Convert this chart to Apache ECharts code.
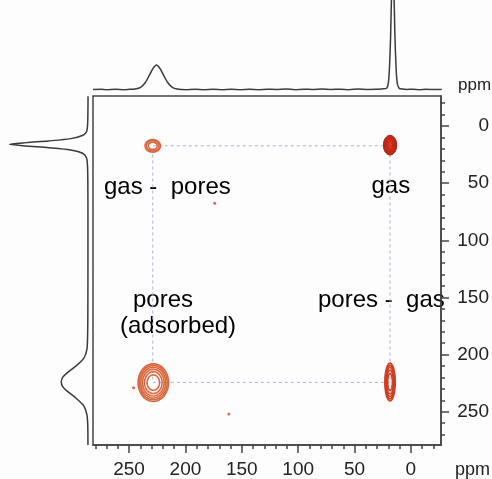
<!DOCTYPE html>
<html><head><meta charset="utf-8">
<script src="https://cdn.jsdelivr.net/npm/echarts@6/dist/echarts.min.js"></script>
<style>html,body{margin:0;padding:0;background:#fdfdfd}#c{width:492px;height:479px}</style>
</head><body><div id="c"></div>
<script>
// ---------- data ----------
const xMajorTicks = [250, 200, 150, 100, 50, 0];
const xMinorTicks = [280, 270, 260, 240, 230, 220, 210, 190, 180, 170, 160, 140, 130, 120, 110, 90, 80, 70, 60, 40, 30, 20, 10, -10, -20];
const yMajorTicks = [0, 50, 100, 150, 200, 250];
const yMinorTicks = [-20, -10, 10, 20, 30, 40, 60, 70, 80, 90, 110, 120, 130, 140, 160, 170, 180, 190, 210, 220, 230, 240, 260, 270];

// 2D peaks (ppm F2, ppm F1, half-width F2, half-width F1, contour levels)
const peakNames = ['gas - pores', 'gas', 'pores', 'pores - gas'];
const peakF2 = [229, 18.5, 228.5, 18.5];
const peakF1 = [17.3, 16.7, 224.5, 224];
const peakHalfF2 = [6.8, 5.8, 13.5, 4.6];
const peakHalfF1 = [5.5, 8.5, 16.5, 16.5];
const peakLevels = [3, 7, 6, 5];

// small noise dots
const dotF2 = [174, 161.5, 246];
const dotF1 = [67.5, 252, 229];

// exchange square (dashed)
const squareF2 = [229, 18.5, 18.5, 229, 229];
const squareF1 = [17.3, 17.3, 224.3, 224.3, 17.3];

// top projection (F2)
const topPpm = [282, 275, 270, 262, 255, 250, 245, 240, 236, 232, 229, 226, 223, 220, 216, 212, 208, 200, 192, 184, 176, 168, 160, 152, 144, 136, 128, 120, 112, 104, 96, 88, 80, 72, 64, 56, 48, 40, 32, 27, 23, 21.5, 20.5, 19.5, 18.6, 17.6, 16.6, 15.7, 14.7, 13.7, 12, 9, 5, 0, -6, -12, -18, -25.6];
const topInt = [0.5, 0.9, 0.4, 0.8, 0.3, 0.7, 1.2, 3, 8, 17, 24, 27.8, 24, 17, 8, 3, 1.1, 0.4, 0.9, 0.3, 0.8, 0.2, 0.9, 0.4, 0.8, 0.3, 0.9, 0.5, 1.0, 0.4, 0.9, 0.5, 1.0, 0.6, 0.9, 0.4, 1.0, 0.6, 0.9, 1.2, 2, 8, 25, 60, 110, 135, 110, 60, 25, 8, 2, 1.0, 0.6, 0.9, 0.4, 0.8, 0.5, 0.6];

// left projection (F1)
const leftPpm = [-26, -15, -5, 0, 5, 8, 11, 13, 14.5, 16, 17.5, 19, 21, 24, 28, 35, 50, 80, 120, 160, 180, 195, 203, 210, 216, 220, 224, 228, 232, 238, 245, 253, 262, 279];
const leftInt = [0.3, 0.4, 0.6, 0.9, 2, 6, 20, 45, 70, 89.5, 70, 45, 20, 6, 2, 0.9, 0.5, 0.4, 0.4, 0.5, 0.7, 1.5, 5, 14, 24, 29, 30.6, 29, 24, 14, 5, 1.5, 0.6, 0.4];

// ---------- styles ----------
const FONT = '"Liberation Sans", Arial, Helvetica, sans-serif';
const AX = '#444';
const peakStyle = [
  { stroke: '#d9663c', fill: null, lw: 1.6 },
  { stroke: '#b8241a', fill: '#d9381f', lw: 1.0 },
  { stroke: '#d9663c', fill: null, lw: 1.6 },
  { stroke: '#cf3f22', fill: null, lw: 1.6 }
];

const X_RANGE = [-26.7, 282];
const Y_RANGE = [-26.3, 279.1];

function ellipsePts(cx, cy, rx, ry) {
  const pts = [];
  for (let i = 0; i < 48; i++) {
    const a = Math.PI * 2 * i / 48;
    pts.push([cx + rx * Math.cos(a), cy + ry * Math.sin(a)]);
  }
  return pts;
}

const peakData = peakF2.map((x, i) => [x, peakF1[i], peakHalfF2[i], peakHalfF1[i], peakLevels[i]]);

const chart = echarts.init(document.getElementById('c'), null, { renderer: 'canvas' });

const option = {
  backgroundColor: '#fdfdfd',
  animation: false,
  grid: [
    { left: 93, top: 96, width: 350, height: 349, show: true, borderColor: AX, borderWidth: 1.5, backgroundColor: 'transparent' },
    { left: 93, top: 0, width: 350, height: 90 },
    { left: 0, top: 96, width: 88.3, height: 349 }
  ],
  xAxis: [
    { gridIndex: 0, type: 'value', inverse: true, min: X_RANGE[0], max: X_RANGE[1], position: 'bottom',
      splitLine: { show: false },
      axisLine: { show: true, onZero: false, lineStyle: { color: AX, width: 1.5 } },
      axisTick: { show: true, length: 8, customValues: xMajorTicks, lineStyle: { color: AX, width: 1.5 } },
      axisLabel: { show: true, customValues: xMajorTicks, margin: 15, fontSize: 19, fontFamily: FONT, color: '#222' } },
    { gridIndex: 0, type: 'value', inverse: true, min: X_RANGE[0], max: X_RANGE[1], position: 'bottom',
      splitLine: { show: false },
      axisLine: { show: false, onZero: false },
      axisTick: { show: true, length: 4, customValues: xMinorTicks, lineStyle: { color: AX, width: 1.5 } },
      axisLabel: { show: false } },
    { gridIndex: 1, type: 'value', inverse: true, min: X_RANGE[0], max: X_RANGE[1], show: false },
    { gridIndex: 2, type: 'value', inverse: true, min: 0, max: 100, show: false }
  ],
  yAxis: [
    { gridIndex: 0, type: 'value', inverse: true, min: Y_RANGE[0], max: Y_RANGE[1], position: 'right',
      splitLine: { show: false },
      axisLine: { show: true, onZero: false, lineStyle: { color: AX, width: 1.5 } },
      axisTick: { show: true, length: 8, customValues: yMajorTicks, lineStyle: { color: AX, width: 1.5 } },
      axisLabel: { show: true, customValues: yMajorTicks, margin: 48, align: 'right', fontSize: 19, fontFamily: FONT, color: '#222' } },
    { gridIndex: 0, type: 'value', inverse: true, min: Y_RANGE[0], max: Y_RANGE[1], position: 'right',
      splitLine: { show: false },
      axisLine: { show: false, onZero: false },
      axisTick: { show: true, length: 4, customValues: yMinorTicks, lineStyle: { color: AX, width: 1.5 } },
      axisLabel: { show: false } },
    { gridIndex: 1, type: 'value', min: 0, max: 100, show: false },
    { gridIndex: 2, type: 'value', inverse: true, min: Y_RANGE[0], max: Y_RANGE[1], show: false }
  ],
  series: [
    { type: 'line', xAxisIndex: 0, yAxisIndex: 0, data: squareF2.map((x, i) => [x, squareF1[i]]),
      symbol: 'none', z: 1, lineStyle: { color: '#a9b3cf', width: 1, type: [3, 3] } },
    { type: 'custom', xAxisIndex: 0, yAxisIndex: 0, z: 3, data: peakData,
      renderItem: function (params, api) {
        const c = api.coord([api.value(0), api.value(1)]);
        const s = api.size([api.value(2), api.value(3)]);
        const n = api.value(4);
        const st = peakStyle[params.dataIndex];
        const children = [];
        if (st.fill) {
          children.push({ type: 'polygon', shape: { points: ellipsePts(c[0], c[1], s[0], s[1]) },
            style: { fill: st.fill, stroke: st.fill, lineWidth: 1 } });
        }
        for (let k = 0; k < n; k++) {
          const f = Math.sqrt(1 - k / n);
          children.push({ type: 'polygon', shape: { points: ellipsePts(c[0], c[1], s[0] * f, s[1] * f) },
            style: { fill: 'none', stroke: st.stroke, lineWidth: st.lw } });
        }
        return { type: 'group', children: children };
      } },
    { type: 'scatter', xAxisIndex: 0, yAxisIndex: 0, z: 3, data: dotF2.map((x, i) => [x, dotF1[i]]),
      symbol: 'circle', symbolSize: 3, itemStyle: { color: '#d9402a' } },
    { type: 'line', xAxisIndex: 2, yAxisIndex: 2, data: topPpm.map((x, i) => [x, topInt[i]]),
      symbol: 'none', smooth: 0.25, clip: true, lineStyle: { color: '#3a3a3a', width: 1.5 } },
    { type: 'line', xAxisIndex: 3, yAxisIndex: 3, data: leftPpm.map((y, i) => [leftInt[i], y]),
      symbol: 'none', smooth: 0.25, clip: true, lineStyle: { color: '#3a3a3a', width: 1.5 } }
  ],
  graphic: [
    { type: 'text', style: { text: 'gas -  pores', x: 104, y: 187, font: '24px ' + FONT, fill: '#000', verticalAlign: 'middle' } },
    { type: 'text', style: { text: 'gas', x: 371.5, y: 186, font: '24px ' + FONT, fill: '#000', verticalAlign: 'middle' } },
    { type: 'text', style: { text: 'pores', x: 133, y: 300, font: '24px ' + FONT, fill: '#000', verticalAlign: 'middle' } },
    { type: 'text', style: { text: '(adsorbed)', x: 120, y: 326, font: '24px ' + FONT, fill: '#000', verticalAlign: 'middle' } },
    { type: 'text', style: { text: 'pores -  gas', x: 318, y: 300, font: '24px ' + FONT, fill: '#000', verticalAlign: 'middle' } },
    { type: 'text', style: { text: 'ppm', x: 458, y: 85, font: '17px ' + FONT, fill: '#222', verticalAlign: 'middle' } },
    { type: 'text', style: { text: 'ppm', x: 455, y: 470, font: '18px ' + FONT, fill: '#222', verticalAlign: 'middle' } }
  ]
};
chart.setOption(option);
</script>
</body></html>
